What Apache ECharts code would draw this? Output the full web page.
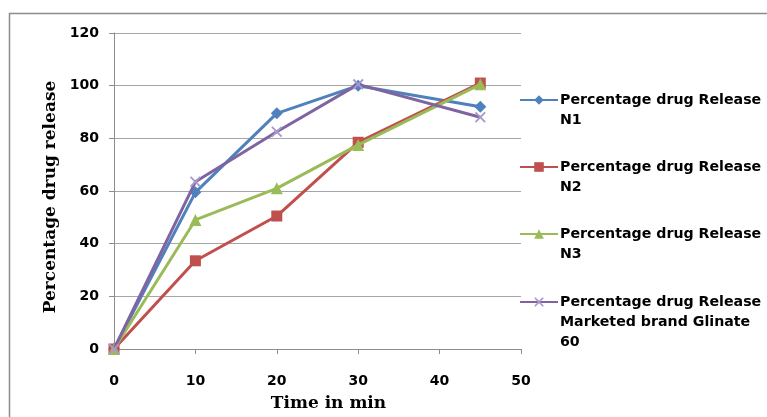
<!DOCTYPE html>
<html><head><meta charset="utf-8">
<script src="https://cdn.jsdelivr.net/npm/echarts@6/dist/echarts.min.js"></script>
<style>html,body{margin:0;padding:0;background:#fff}#c{width:767px;height:417px}</style>
</head><body><div id="c"></div>
<script>
const times = [0, 10, 20, 30, 45];
const n1 = [0, 59.5, 89.5, 100, 92];
const n2 = [0, 33.5, 50.5, 78.5, 101];
const n3 = [0, 49, 61, 77.5, 100.5];
const marketed = [0, 63.5, 82.5, 100.5, 88];
const seriesNames = ['Percentage drug Release N1', 'Percentage drug Release N2', 'Percentage drug Release N3', 'Percentage drug Release Marketed brand Glinate 60'];
const legendTexts = ['\nPercentage drug Release\nN1', '\nPercentage drug Release\nN2', '\nPercentage drug Release\nN3', '\n\nPercentage drug Release\nMarketed brand Glinate\n60'];
const xTitle = 'Time in min';
const yTitle = 'Percentage drug release';

const colors = ['#4F81BD', '#C0504D', '#9BBB59', '#8064A2'];
const xPath = 'path://M0,1.2L1.2,0L5,3.8L8.8,0L10,1.2L6.2,5L10,8.8L8.8,10L5,6.2L1.2,10L0,8.8L3.8,5Z';
const symbols = ['diamond', 'rect', 'triangle', xPath];
const sizes = [12, 11, 12, 11];
const values = [n1, n2, n3, marketed];
const legendTops = [70, 137, 204, 252];

const sans = 'DejaVu Sans, Arial, sans-serif';
const serif = 'DejaVu Serif, Times New Roman, serif';

const chart = echarts.init(document.getElementById('c'));
chart.setOption({
  animation: false,
  graphic: [{type: 'rect', shape: {x: 9.5, y: 13.5, width: 800, height: 420}, style: {fill: 'none', stroke: '#8c8c8c', lineWidth: 1.5}, z: -10}],
  grid: {left: 114, right: 246, top: 33, bottom: 64},
  legend: seriesNames.map((n, i) => ({
    data: [n], left: 519, top: legendTops[i], orient: 'vertical',
    itemWidth: 38, itemHeight: 12, itemGap: 0, padding: 0,
    formatter: () => legendTexts[i],
    textStyle: {fontFamily: sans, fontWeight: 'bold', fontSize: 14.2, color: '#000', lineHeight: 20, padding: [0,0,0,-3]}
  })),
  xAxis: {
    type: 'value', min: 0, max: 50, interval: 10,
    name: xTitle, nameLocation: 'middle', nameGap: 46,
    nameTextStyle: {fontFamily: serif, fontWeight: 'bold', fontSize: 17, color: '#000', padding: [0,0,0,22]},
    axisLine: {show: true, lineStyle: {color: '#8c8c8c', width: 1}},
    axisTick: {show: true, length: 5, lineStyle: {color: '#8c8c8c'}},
    axisLabel: {fontFamily: sans, fontWeight: 'bold', fontSize: 14, color: '#000', margin: 25},
    splitLine: {show: false}
  },
  yAxis: {
    type: 'value', min: 0, max: 120, interval: 20,
    name: yTitle, nameLocation: 'middle', nameGap: 52, nameRotate: 90,
    nameTextStyle: {fontFamily: serif, fontWeight: 'bold', fontSize: 17, color: '#000', padding: [0,12,0,0]},
    axisLine: {show: true, lineStyle: {color: '#8c8c8c', width: 1}},
    axisTick: {show: true, length: 5, lineStyle: {color: '#8c8c8c'}},
    axisLabel: {fontFamily: sans, fontWeight: 'bold', fontSize: 14, color: '#000', margin: 15},
    splitLine: {show: true, lineStyle: {color: '#a6a6a6', width: 1}}
  },
  series: seriesNames.map((n, i) => ({
    name: n, type: 'line',
    data: times.map((t, j) => [t, values[i][j]]),
    symbol: symbols[i], symbolSize: sizes[i], showAllSymbol: true,
    lineStyle: {color: colors[i], width: 3},
    itemStyle: {color: i === 3 ? '#a898cc' : colors[i]},
    z: 2 + i
  }))
});
</script></body></html>
